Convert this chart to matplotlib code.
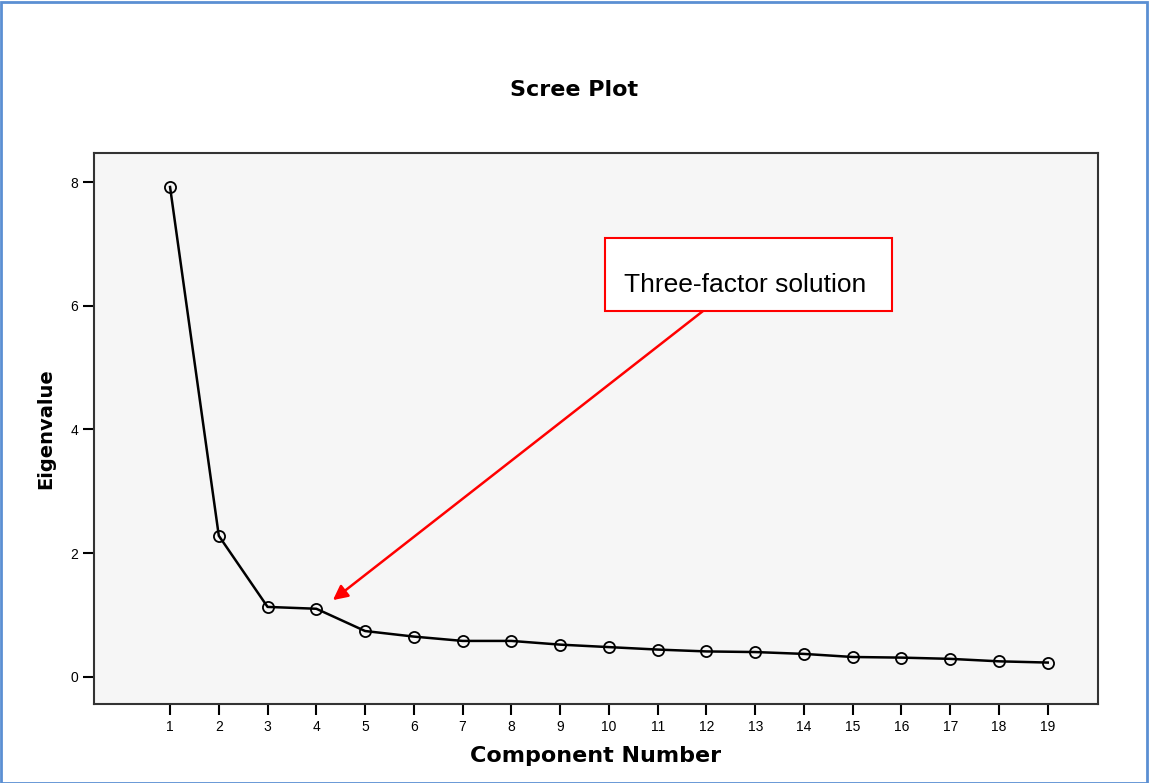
import matplotlib.pyplot as plt
from matplotlib.patches import Rectangle

components = list(range(1, 20))
eigenvalues = [7.92, 2.28, 1.13, 1.10, 0.74, 0.65, 0.58, 0.58, 0.52, 0.48,
               0.44, 0.41, 0.40, 0.37, 0.32, 0.31, 0.29, 0.25, 0.23]
y_ticks = [0, 2, 4, 6, 8]
note = 'Three-factor solution'

plt.rcParams['font.family'] = ['Liberation Sans', 'DejaVu Sans']

fig = plt.figure(figsize=(11.49, 7.83), dpi=100)
ax = fig.add_axes([0.0818, 0.1009, 0.8738, 0.7037])
ax.set_facecolor('#f6f6f6')

ax.plot(components, eigenvalues, color='black', linewidth=1.8,
        marker='o', markersize=8, markerfacecolor='none',
        markeredgecolor='black', markeredgewidth=1.3)

ax.set_xlim(-0.56, 20.03)
ax.set_ylim(-0.44, 8.47)
ax.set_xticks(components)
ax.set_yticks(y_ticks)
ax.tick_params(direction='out', length=8, width=1.5, labelsize=10, color='black')
for s in ax.spines.values():
    s.set_color('#333333')
    s.set_linewidth(1.5)

bold = dict(family='DejaVu Sans', fontweight='bold')
ax.set_xlabel('Component Number', fontsize=16, labelpad=9, **bold)
ax.set_ylabel('Eigenvalue', fontsize=14, labelpad=11, **bold)
fig.suptitle('Scree Plot', x=0.5, y=0.885, va='center', fontsize=16, **bold)

# annotation: arrow, red box, text
ax.annotate('', xy=(4.34, 1.24), xytext=(11.93, 5.915),
            arrowprops=dict(arrowstyle='-|>', color='red', lw=1.8,
                            mutation_scale=22, shrinkA=0, shrinkB=0))
ax.add_patch(Rectangle((9.918, 5.915), 15.80 - 9.918, 7.095 - 5.915,
                       facecolor='white', edgecolor='red', linewidth=1.5, zorder=3))
ax.text(12.80, 6.335, note, ha='center', va='center', fontsize=19, zorder=4)

# blue frame around the figure
fig.patches.append(Rectangle((0.001, 0.0), 0.997, 0.997, transform=fig.transFigure,
                             fill=False, edgecolor='#5b8fd3', linewidth=2))

fig.savefig('out.png', dpi=100)
